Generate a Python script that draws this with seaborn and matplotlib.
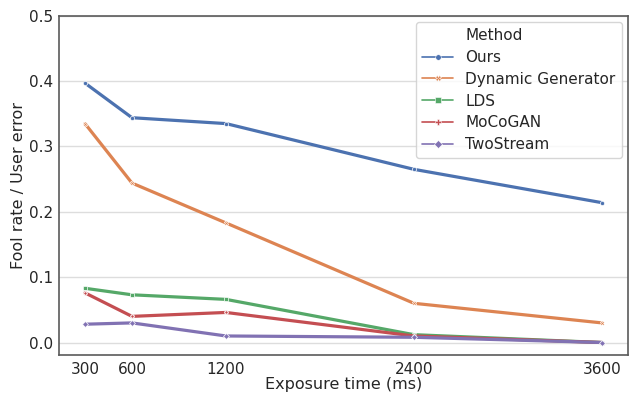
import numpy as np
import pandas as pd
import matplotlib
matplotlib.use("Agg")
import matplotlib.pyplot as plt
import seaborn as sns
from matplotlib.lines import Line2D

# Values
exposure = [300, 600, 1200, 2400, 3600]
methods = ["Ours", "Dynamic Generator", "LDS", "MoCoGAN", "TwoStream"]
ours = [0.397, 0.344, 0.335, 0.265, 0.214]
dyn_gen = [0.335, 0.244, 0.183, 0.060, 0.030]
lds = [0.083, 0.073, 0.066, 0.012, 0.000]
mocogan = [0.076, 0.040, 0.046, 0.010, 0.000]
twostream = [0.028, 0.030, 0.010, 0.008, 0.000]

df = pd.DataFrame({
    "Exposure time (ms)": exposure * 5,
    "Fool rate / User error": ours + dyn_gen + lds + mocogan + twostream,
    "Method": np.repeat(methods, len(exposure)),
})

sns.set_theme(style="white", palette="deep")
plt.rcParams["font.family"] = ["DejaVu Sans"]

marker_list = ["o", "X", "s", "P", "D"]
colors = sns.color_palette("deep", 5)

fig, ax = plt.subplots(figsize=(6.29, 3.94), dpi=100)
sns.lineplot(data=df, x="Exposure time (ms)", y="Fool rate / User error",
             hue="Method", style="Method", markers=marker_list, dashes=False,
             linewidth=2.3, markersize=3, markeredgecolor="white",
             markeredgewidth=0.5, legend=False, ax=ax)

ax.set_xticks(exposure)
ax.set_ylim(-0.0185, 0.5)
ax.set_yticks([0.0, 0.1, 0.2, 0.3, 0.4, 0.5])
ax.yaxis.grid(True, color="#dddddd", linewidth=1)
ax.xaxis.grid(False)
for s in ax.spines.values():
    s.set_color("#5a5a5a")
    s.set_linewidth(1.2)
ax.tick_params(axis="x", length=0, labelsize=11, pad=5.3, labelcolor="#262626")
ax.tick_params(axis="y", length=0, labelsize=11, pad=4.3, labelcolor="#262626")
ax.set_xlabel("Exposure time (ms)", fontsize=11.5, labelpad=0, color="#262626")
ax.set_ylabel("Fool rate / User error", fontsize=11.5, labelpad=2, color="#262626")

# legend with title shown as first entry
handles = [Line2D([], [], linestyle="none", marker="")]
labels = ["Method"]
for m, c, mk in zip(methods, colors, marker_list):
    handles.append(Line2D([], [], color=c, lw=1.2, marker=mk, markersize=4,
                          markeredgecolor="white", markeredgewidth=0.4))
    labels.append(m)
leg = ax.legend(handles, labels, loc="upper right", fontsize=11, frameon=True,
                handlelength=2.0, handletextpad=0.8, borderaxespad=0.4,
                labelspacing=0.45)
for t in leg.get_texts():
    t.set_color("#262626")

plt.subplots_adjust(left=0.094, right=0.998, top=0.96, bottom=0.1)
fig.savefig("out.png", dpi=100)
